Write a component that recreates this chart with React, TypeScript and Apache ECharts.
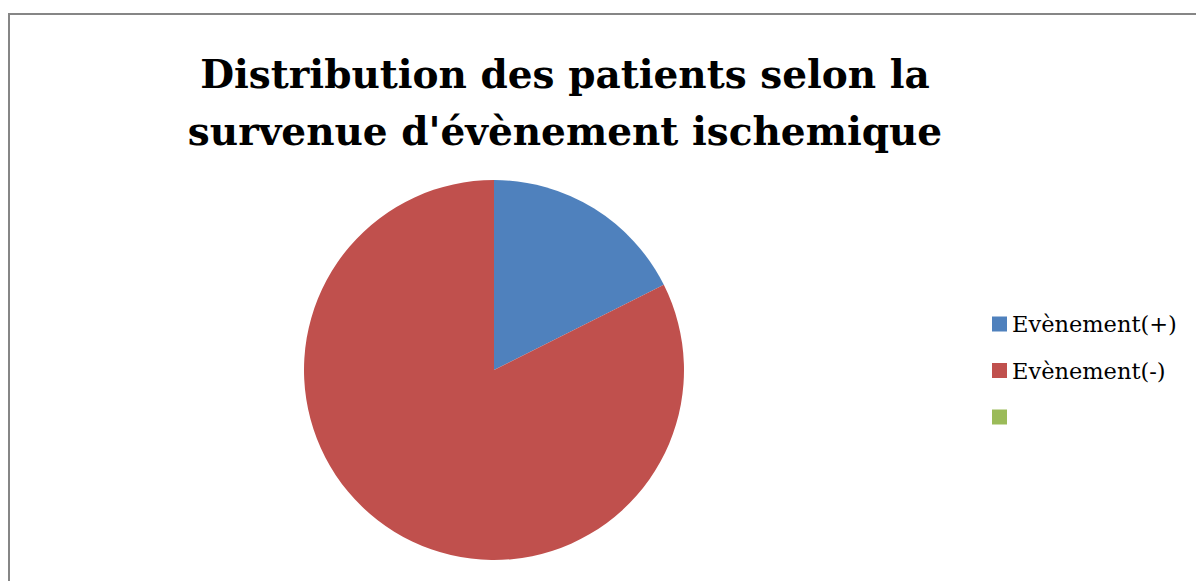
import React, { useEffect, useRef } from "react";
import * as echarts from "echarts";

const categories = ["Evènement(+)", "Evènement(-)", " "];
const values = [17.6, 82.4, 0];
const colors = ["#4F81BD", "#C0504D", "#9BBB59"];
const titleLines = ["Distribution des patients selon la", "survenue d'évènement ischemique"];

export default function App() {
  const ref = useRef<HTMLDivElement>(null);
  useEffect(() => {
    const chart = echarts.init(ref.current!, null, { renderer: "svg" });
    chart.setOption({
      animation: false,
      backgroundColor: "#ffffff",
      title: {
        text: titleLines.join("\n"),
        left: 560,
        top: 40,
        textAlign: "center",
        textStyle: {
          fontFamily: "DejaVu Serif",
          fontWeight: "bold",
          fontSize: 39,
          lineHeight: 57,
          color: "#000000",
        },
      },
      legend: {
        orient: "vertical",
        left: 987,
        top: 307,
        padding: 5,
        itemWidth: 15,
        itemHeight: 15,
        itemGap: 22.5,
        icon: "rect",
        data: categories,
        selectedMode: false,
        textStyle: {
          fontFamily: "DejaVu Serif",
          fontSize: 22.5,
          lineHeight: 24,
          color: "#000000",
        },
      },
      graphic: [
        { type: "line", shape: { x1: 9, y1: 13, x2: 9, y2: 581 }, style: { stroke: "#868686", lineWidth: 2 } },
        { type: "line", shape: { x1: 8, y1: 14, x2: 1196, y2: 14 }, style: { stroke: "#868686", lineWidth: 2 } },
      ],
      series: [
        {
          type: "pie",
          center: [494, 370],
          radius: 190,
          startAngle: 90,
          clockwise: true,
          label: { show: false },
          labelLine: { show: false },
          emphasis: { disabled: true },
          data: categories.map((name, i) => ({
            name,
            value: values[i],
            itemStyle: { color: colors[i] },
          })),
        },
      ],
    });
    return () => chart.dispose();
  }, []);
  return (
    <div
      ref={ref}
      style={{ position: "absolute", left: 0, top: 0, width: 1196, height: 581 }}
    />
  );
}
